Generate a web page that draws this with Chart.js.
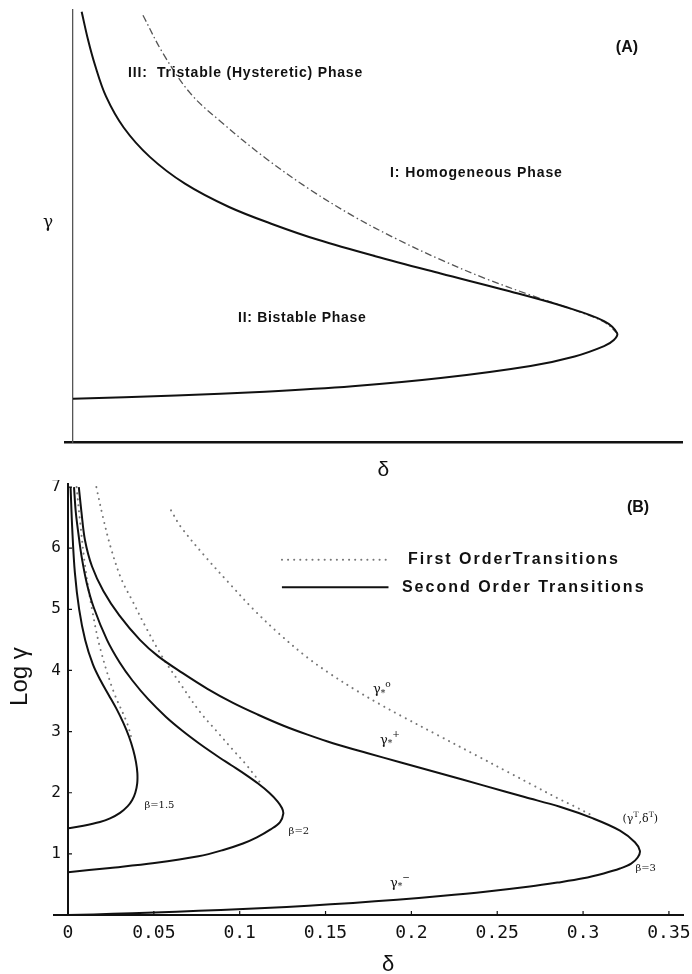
<!DOCTYPE html>
<html>
<head>
<meta charset="utf-8">
<script src="https://cdn.jsdelivr.net/npm/chart.js@4.4.1/dist/chart.umd.min.js"></script>
<style>
  body { margin: 0; background: #fff; }
  canvas { position: absolute; left: 0; }
</style>
</head>
<body>
<canvas id="chartA" width="692" height="480" style="top:0"></canvas>
<canvas id="chartB" width="692" height="494" style="top:480px"></canvas>
<script>
// ---- panel A : gamma vs delta (linear, no tick values) ----
const deltaA2nd = [0.0053, 0.0092, 0.0135, 0.0202, 0.031, 0.047, 0.0685, 0.0955, 0.123, 0.150, 0.185, 0.225, 0.266, 0.301, 0.325, 0.333, 0.331, 0.325, 0.307, 0.280, 0.225, 0.171, 0.1175, 0.063, 0];
const gammaA2nd = [9.96, 9.31, 8.72, 8.0, 7.28, 6.60, 5.98, 5.44, 5.03, 4.68, 4.30, 3.90, 3.50, 3.13, 2.80, 2.52, 2.36, 2.22, 1.98, 1.76, 1.48, 1.29, 1.165, 1.075, 1.0];
const deltaA1st = [0.0428, 0.055, 0.0716, 0.0903, 0.1175, 0.1444, 0.171, 0.198, 0.225, 0.252, 0.280, 0.307, 0.325, 0.333];
const gammaA1st = [9.88, 9.0, 8.08, 7.42, 6.58, 5.86, 5.24, 4.70, 4.22, 3.79, 3.40, 3.05, 2.78, 2.52];

// ---- panel B : log gamma vs delta ----
const xTicksB = [0, 0.05, 0.1, 0.15, 0.2, 0.25, 0.3, 0.35];
const yTicksB = [1, 2, 3, 4, 5, 6, 7];

// second order (solid) curves, beta = 1.5, 2, 3
const deltaB15 = [0.0015, 0.0025, 0.004, 0.0065, 0.010, 0.0145, 0.0189, 0.0237, 0.0281, 0.0323, 0.0355, 0.0380, 0.0396, 0.0404, 0.0403, 0.0392, 0.0374, 0.0348, 0.0303, 0.0245, 0.0186, 0.009, 0];
const logGB15 = [7.0, 6.3, 5.6, 5.0, 4.5, 4.1, 3.84, 3.60, 3.38, 3.14, 2.92, 2.70, 2.50, 2.32, 2.15, 2.0, 1.88, 1.78, 1.67, 1.58, 1.52, 1.46, 1.42];
const deltaB2 = [0.0035, 0.0045, 0.006, 0.008, 0.011, 0.015, 0.0227, 0.0301, 0.0374, 0.0467, 0.0571, 0.0668, 0.0762, 0.0854, 0.0951, 0.1032, 0.1107, 0.1172, 0.122, 0.1246, 0.1254, 0.1235, 0.118, 0.110, 0.1019, 0.090, 0.076, 0.0504, 0.0245, 0];
const logGB2 = [7.0, 6.6, 6.25, 5.85, 5.42, 5.03, 4.50, 4.13, 3.84, 3.53, 3.24, 3.01, 2.81, 2.63, 2.45, 2.30, 2.15, 2.0, 1.86, 1.75, 1.66, 1.52, 1.40, 1.27, 1.17, 1.06, 0.96, 0.85, 0.77, 0.70];
const deltaB3 = [0.0063, 0.0078, 0.0099, 0.0140, 0.0206, 0.0299, 0.0419, 0.0526, 0.0666, 0.0812, 0.0961, 0.1104, 0.1252, 0.1395, 0.1543, 0.1741, 0.1934, 0.2176, 0.2418, 0.266, 0.2865, 0.3058, 0.3215, 0.3302, 0.3331, 0.3318, 0.328, 0.3215, 0.312, 0.300, 0.285, 0.269, 0.243, 0.217, 0.1916, 0.166, 0.140, 0.1147, 0.089, 0.0632, 0.0373, 0.015, 0];
const logGB3 = [7.0, 6.6, 6.13, 5.7, 5.3, 4.9, 4.5, 4.23, 3.96, 3.70, 3.47, 3.28, 3.10, 2.95, 2.81, 2.65, 2.50, 2.31, 2.12, 1.93, 1.77, 1.58, 1.38, 1.19, 1.05, 0.94, 0.84, 0.76, 0.68, 0.60, 0.53, 0.465, 0.38, 0.31, 0.25, 0.198, 0.152, 0.115, 0.083, 0.055, 0.03, 0.01, 0];

// first order (dotted) curves
const deltaD15 = [0.005, 0.007, 0.010, 0.014, 0.0186, 0.0262, 0.0344, 0.0375];
const logGD15 = [7.0, 6.45, 5.7, 5.0, 4.38, 3.68, 3.14, 2.84];
const deltaD2 = [0.0165, 0.020, 0.025, 0.031, 0.0373, 0.0451, 0.055, 0.065, 0.0769, 0.0868, 0.0961, 0.1035, 0.1077, 0.1118];
const logGD2 = [7.0, 6.55, 6.0, 5.5, 5.15, 4.72, 4.22, 3.80, 3.32, 3.00, 2.70, 2.47, 2.32, 2.17];
const deltaD3 = [0.060, 0.0657, 0.080, 0.0938, 0.108, 0.1222, 0.139, 0.1525, 0.1675, 0.1815, 0.1945, 0.2155, 0.2385, 0.2568, 0.271, 0.2852, 0.2955, 0.3058];
const logGD3 = [6.62, 6.35, 5.86, 5.43, 5.0, 4.62, 4.22, 3.95, 3.68, 3.45, 3.25, 2.94, 2.60, 2.33, 2.12, 1.91, 1.77, 1.62];

const pts = (xs, ys) => xs.map((x, i) => ({ x, y: ys[i] }));

const solid = (xs, ys) => ({
  data: pts(xs, ys), showLine: true, borderColor: '#111', borderWidth: 2, pointRadius: 0, tension: 0.35
});
const dotted = (xs, ys) => ({
  data: pts(xs, ys), showLine: true, borderColor: '#777', borderWidth: 2, borderDash: [0.1, 6],
  borderCapStyle: 'round', pointRadius: 0, tension: 0.35
});

// text with sub/superscripts: parts = [[text, 'n'|'sub'|'sup'], ...]
function drawRich(ctx, parts, x, y, size, weight, family) {
  let cx = x;
  parts.forEach(([t, k]) => {
    const s = k === 'n' ? size : size * 0.7;
    const dy = k === 'sub' ? size * 0.3 : k === 'sup' ? -size * 0.4 : 0;
    ctx.font = `${weight} ${s}px ${family}`;
    ctx.fillText(t, cx, y + dy);
    cx += ctx.measureText(t).width;
  });
}

const textPlugin = (items) => ({
  id: 'texts',
  afterDraw(chart) {
    const { ctx, scales: { x, y } } = chart;
    ctx.save();
    ctx.fillStyle = '#111';
    ctx.textBaseline = 'middle';
    items.forEach(it => {
      const px = x.getPixelForValue(it.x), py = y.getPixelForValue(it.y);
      const family = it.family || '"Liberation Sans", Arial, sans-serif';
      const weight = it.weight || 'normal';
      const parts = typeof it.text === 'string' ? [[it.text, 'n']] : it.text;
      ctx.save();
      ctx.translate(px, py);
      if (it.rotate) ctx.rotate(it.rotate);
      ctx.textAlign = 'left';
      ctx.letterSpacing = it.spacing || '0px';
      let w = 0;
      if (it.align === 'center') {
        parts.forEach(([t, k]) => {
          ctx.font = `${weight} ${k === 'n' ? it.size : it.size * 0.7}px ${family}`;
          w += ctx.measureText(t).width;
        });
      }
      drawRich(ctx, parts, -w / 2, 0, it.size, weight, family);
      ctx.restore();
    });
    ctx.restore();
  }
});

// small inward tick marks on panel B, plus the short stub of the delta axis left of the origin
const innerTicks = {
  id: 'innerTicks',
  afterDraw(chart) {
    const { ctx, chartArea: a, scales: { x, y } } = chart;
    ctx.save();
    ctx.strokeStyle = '#111';
    ctx.lineWidth = 1.2;
    ctx.beginPath();
    xTicksB.forEach(v => { const p = x.getPixelForValue(v); ctx.moveTo(p, a.bottom); ctx.lineTo(p, a.bottom - 4); });
    yTicksB.forEach(v => { const p = y.getPixelForValue(v); ctx.moveTo(a.left, p); ctx.lineTo(a.left + 4, p); });
    ctx.stroke();
    ctx.lineWidth = 2;
    ctx.beginPath();
    ctx.moveTo(a.left - 15, a.bottom);
    ctx.lineTo(a.left, a.bottom);
    ctx.stroke();
    ctx.restore();
  }
};

// legend of panel B
const legendB = {
  id: 'legendB',
  afterDraw(chart) {
    const { ctx, scales: { x, y } } = chart;
    const x0 = x.getPixelForValue(0.1246), x1 = x.getPixelForValue(0.1855);
    ctx.save();
    ctx.lineCap = 'round';
    ctx.strokeStyle = '#777';
    ctx.lineWidth = 2;
    ctx.setLineDash([0.1, 6]);
    ctx.beginPath();
    ctx.moveTo(x0, y.getPixelForValue(5.81));
    ctx.lineTo(x1, y.getPixelForValue(5.81));
    ctx.stroke();
    ctx.setLineDash([]);
    ctx.strokeStyle = '#111';
    ctx.lineCap = 'butt';
    ctx.beginPath();
    ctx.moveTo(x0, y.getPixelForValue(5.36));
    ctx.lineTo(x1 + 2, y.getPixelForValue(5.36));
    ctx.stroke();
    ctx.restore();
  }
};

const noPad = s => { s.paddingTop = 0; s.paddingBottom = 0; s.paddingLeft = 0; s.paddingRight = 0; };

const base = {
  responsive: false,
  animation: false,
  events: [],
  plugins: { legend: { display: false }, tooltip: { enabled: false } }
};

// ---------- chart A ----------
new Chart(document.getElementById('chartA'), {
  type: 'scatter',
  data: {
    datasets: [
      solid(deltaA2nd, gammaA2nd),
      {
        data: pts(deltaA1st, gammaA1st), showLine: true, borderColor: '#555', borderWidth: 1.3,
        borderDash: [7, 3, 1.5, 3], pointRadius: 0, tension: 0.35
      }
    ]
  },
  options: {
    ...base,
    layout: { padding: { top: 10, right: 10, left: 65, bottom: 0 } },
    scales: {
      x: {
        type: 'linear', min: -0.0049, max: 0.3727,
        grid: { display: false, drawTicks: false },
        border: { color: '#111', width: 2.5 },
        ticks: { display: false },
        afterFit: s => { noPad(s); s.height = 38; }
      },
      y: {
        type: 'linear', min: 0, max: 10, position: { x: 0 },
        grid: { display: false, drawTicks: false },
        border: { color: '#555', width: 1.3, dash: [8, 3, 2, 3] },
        ticks: { display: false },
        afterFit: noPad
      }
    }
  },
  plugins: [textPlugin([
    { text: 'III:  Tristable (Hysteretic) Phase', x: 0.0337, y: 8.54, size: 14, weight: 'bold', spacing: '0.8px' },
    { text: 'I: Homogeneous Phase', x: 0.194, y: 6.23, size: 14, weight: 'bold', spacing: '0.9px' },
    { text: 'II: Bistable Phase', x: 0.101, y: 2.87, size: 14, weight: 'bold', spacing: '0.7px' },
    { text: '(A)', x: 0.339, y: 9.12, size: 16, weight: 'bold', align: 'center' },
    { text: 'γ', x: -0.0153, y: 5.07, size: 17, align: 'center', family: '"DejaVu Serif", serif' },
    { text: 'δ', x: 0.190, y: -0.65, size: 21, align: 'center' }
  ])]
});

// ---------- chart B ----------
new Chart(document.getElementById('chartB'), {
  type: 'scatter',
  data: {
    datasets: [
      solid(deltaB15, logGB15),
      solid(deltaB2, logGB2),
      solid(deltaB3, logGB3),
      dotted(deltaD15, logGD15),
      dotted(deltaD2, logGD2),
      dotted(deltaD3, logGD3)
    ]
  },
  options: {
    ...base,
    layout: { padding: { top: 4, right: 9, left: 0, bottom: 0 } },
    scales: {
      x: {
        type: 'linear', min: 0, max: 0.3582,
        afterBuildTicks: s => { s.ticks = xTicksB.map(v => ({ value: v })); },
        grid: { display: false, drawTicks: false },
        border: { color: '#111', width: 2 },
        ticks: {
          color: '#111', padding: 8, maxRotation: 0,
          font: { family: '"DejaVu Sans Mono", monospace', size: 18 },
          callback: v => String(Number(v.toFixed(2)))
        },
        afterFit: s => { noPad(s); s.height = 59; }
      },
      y: {
        type: 'linear', min: 0, max: 7.05,
        afterBuildTicks: s => { s.ticks = yTicksB.map(v => ({ value: v })); },
        grid: { display: false, drawTicks: false },
        border: { color: '#111', width: 2 },
        ticks: {
          color: '#111', padding: 7,
          font: { family: '"DejaVu Sans Mono", monospace', size: 16 }
        },
        afterFit: s => { noPad(s); s.width = 68; }
      }
    }
  },
  plugins: [innerTicks, legendB, textPlugin([
    { text: 'First OrderTransitions', x: 0.198, y: 5.81, size: 16, weight: 'bold', spacing: '2px' },
    { text: 'Second Order Transitions', x: 0.1945, y: 5.36, size: 16, weight: 'bold', spacing: '2px' },
    { text: '(B)', x: 0.332, y: 6.66, size: 16, weight: 'bold', align: 'center' },
    { text: [['γ', 'n'], ['*', 'sub'], ['o', 'sup']], x: 0.1776, y: 3.68, size: 13, family: '"DejaVu Serif", serif' },
    { text: [['γ', 'n'], ['*', 'sub'], ['+', 'sup']], x: 0.1817, y: 2.86, size: 13, family: '"DejaVu Serif", serif' },
    { text: [['γ', 'n'], ['*', 'sub'], ['−', 'sup']], x: 0.1875, y: 0.52, size: 13, family: '"DejaVu Serif", serif' },
    { text: [['(γ', 'n'], ['T', 'sup'], [',δ', 'n'], ['T', 'sup'], [')', 'n']], x: 0.323, y: 1.57, size: 11, family: '"DejaVu Serif", serif' },
    { text: 'β=3', x: 0.3305, y: 0.77, size: 10, family: '"DejaVu Serif", serif' },
    { text: 'β=1.5', x: 0.0445, y: 1.80, size: 10, family: '"DejaVu Serif", serif' },
    { text: 'β=2', x: 0.1285, y: 1.36, size: 10, family: '"DejaVu Serif", serif' },
    { text: 'Log γ', x: -0.028, y: 3.9, size: 24, rotate: -Math.PI / 2, align: 'center' },
    { text: 'δ', x: 0.1864, y: -0.82, size: 22, align: 'center' }
  ])]
});
</script>
</body>
</html>
